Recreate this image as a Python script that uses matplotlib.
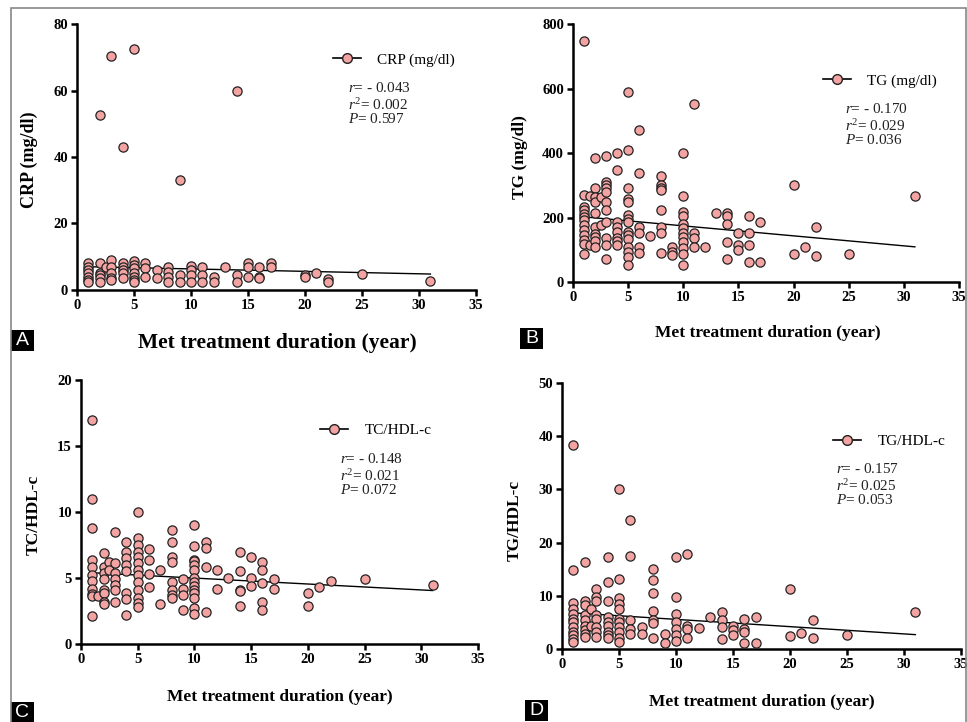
import matplotlib
matplotlib.use("Agg")
import matplotlib.pyplot as plt
from matplotlib.lines import Line2D
from matplotlib.patches import Rectangle

plt.rcParams['font.family'] = ['Liberation Serif', 'DejaVu Serif']
plt.rcParams['mathtext.fontset'] = 'custom'
plt.rcParams['mathtext.rm'] = 'Liberation Serif'
plt.rcParams['mathtext.it'] = 'Liberation Serif:italic'

# ---------------- data ----------------
crp_years = [1, 1, 1, 1, 1, 1, 1,
             2, 2, 2, 2, 2, 2,
             2.5,
             3, 3, 3, 3, 3, 3,
             4, 4, 4, 4, 4, 4,
             5, 5, 5, 5, 5, 5, 5, 5,
             6, 6, 6,
             7, 7,
             8, 8, 8, 8,
             9, 9, 9,
             10, 10, 10, 10,
             11, 11, 11,
             12, 12,
             13,
             14, 14, 14,
             15, 15, 15,
             16, 16, 16,
             17, 17,
             20, 20,
             21,
             22, 22,
             25,
             31]
crp_values = [8, 7, 6, 5, 4, 3, 2.5,
              52.5, 8, 5, 4.5, 3.5, 2.5,
              7,
              70.5, 9, 7, 5, 3.5, 3,
              43, 8, 7, 6, 5, 3.5,
              72.5, 8.8, 7.5, 6.5, 5, 4, 3, 2.5,
              8, 6.5, 4,
              6, 3.5,
              7, 5.5, 4, 2.5,
              33, 4.5, 2.5,
              7.2, 6, 4.5, 2.5,
              7, 4.5, 2.5,
              4, 2.5,
              7,
              60, 4.5, 2.5,
              8, 7, 4,
              7, 4, 3.5,
              8, 7,
              4.4, 3.8,
              5.2,
              3.2, 2.5,
              4.8,
              2.6]

tg_years = [1] * 13 + [1.5] * 2 + [2] * 10 + [2.5] * 2 + [3] * 11 + [4] * 8 + \
           [5] * 15 + [6] * 6 + [7] * 1 + [8] * 8 + [9] * 3 + [10] * 12 + \
           [11] * 4 + [12] * 1 + [13] * 1 + [14] * 5 + [15] * 3 + [16] * 4 + \
           [17] * 2 + [20] * 2 + [21] * 1 + [22] * 2 + [25] * 1 + [31] * 1
tg_values = [748, 269, 233, 223, 212, 202, 192, 176, 161, 145, 130, 119, 88,
             267, 114,
             383, 293, 265, 249, 214, 169, 150, 138, 127, 109,
             265, 178,
             391, 311, 300, 293, 280, 249, 223, 187, 135, 116, 70,
             400, 346, 187, 171, 155, 135, 128, 114,
             588, 408, 293, 257, 247, 207, 194, 187, 155, 145, 132, 109, 93, 78, 52,
             471, 338, 171, 153, 107, 90,
             142,
             330, 302, 292, 285, 223, 171, 153, 90,
             109, 93, 83,
             400, 266, 216, 205, 181, 166, 153, 140, 124, 104, 88, 52,
             551, 153, 135, 107,
             107,
             214,
             214, 205, 179, 124, 70,
             152, 114, 98,
             205, 152, 116, 62,
             187, 62,
             302, 88,
             107,
             169, 80,
             88,
             266]

tc_years = [1] * 11 + [1.5] * 1 + [2] * 8 + [2.5] * 2 + [3] * 7 + [4] * 8 + \
           [5] * 13 + [6] * 4 + [7] * 2 + [8] * 8 + [9] * 4 + [10] * 14 + \
           [11] * 4 + [12] * 2 + [13] * 1 + [14] * 5 + [15] * 3 + [16] * 5 + \
           [17] * 2 + [20] * 2 + [21] * 1 + [22] * 1 + [25] * 1 + [31] * 1
tc_values = [17, 11, 8.8, 6.4, 5.8, 5.2, 4.8, 4.2, 3.8, 3.6, 2.1,
             3.6,
             6.9, 5.8, 5.4, 4.9, 4.1, 3.9, 3.2, 3.0,
             6.2, 5.6,
             8.45, 6.1, 5.4, 4.9, 4.5, 4.1, 3.2,
             7.7, 7.0, 6.5, 6.0, 5.5, 3.9, 3.4, 2.2,
             10, 8.0, 7.5, 7.0, 6.6, 6.1, 5.6, 5.2, 4.7, 4.1, 3.5, 3.1, 2.8,
             7.2, 6.4, 5.3, 4.3,
             5.6, 3.0,
             8.6, 7.7, 6.6, 6.2, 4.7, 4.1, 3.7, 3.5,
             4.9, 4.2, 3.7, 2.6,
             9.0, 7.4, 6.4, 6.3, 6.0, 5.6, 5.0, 4.7, 4.4, 4.1, 3.9, 3.5, 2.7, 2.3,
             7.7, 7.3, 5.8, 2.4,
             5.6, 4.2,
             5.0,
             7.0, 5.5, 4.1, 4.0, 2.9,
             6.6, 5.0, 4.4,
             6.2, 5.6, 4.6, 3.2, 2.6,
             4.9, 4.2,
             3.9, 2.9,
             4.3,
             4.8,
             4.9,
             4.5]

tgh_years = [1] * 12 + [2] * 9 + [2.5] * 2 + [3] * 8 + [4] * 9 + [5] * 11 + \
            [6] * 5 + [7] * 2 + [8] * 7 + [9] * 2 + [10] * 7 + [11] * 4 + \
            [12] * 1 + [13] * 1 + [14] * 4 + [15] * 3 + [16] * 4 + [17] * 2 + \
            [20] * 2 + [21] * 1 + [22] * 2 + [25] * 1 + [31] * 1
tgh_values = [38.3, 14.9, 8.7, 7.6, 6.6, 5.7, 5.1, 4.1, 3.2, 2.6, 1.9, 1.4,
              16.4, 9.1, 8.2, 6.3, 5.4, 4.4, 3.5, 2.8, 2.3,
              7.6, 4.4,
              11.2, 9.8, 9.0, 6.3, 5.7, 4.1, 3.2, 2.3,
              17.2, 12.6, 9.1, 6.0, 5.1, 4.4, 3.2, 2.6, 2.1,
              30.1, 13.1, 9.6, 8.5, 7.6, 5.7, 5.1, 4.1, 3.2, 2.1, 1.3,
              24.2, 17.4, 5.5, 3.8, 2.9,
              4.1, 2.9,
              15.1, 13.0, 10.5, 7.1, 5.4, 4.8, 2.0,
              2.9, 1.1,
              17.2, 9.8, 6.6, 5.1, 3.8, 2.6, 1.5,
              17.8, 4.3, 3.8, 2.1,
              3.9,
              6.1,
              7.0, 5.4, 4.1, 1.8,
              4.3, 3.5, 2.6,
              5.7, 3.8, 3.2, 1.2,
              6.0, 1.2,
              11.2, 2.4,
              3.1,
              5.5, 2.1,
              2.6,
              6.9]

fit_x = [1, 31]
crp_fit = [7.0, 4.8]
tg_fit = [202, 109]
tc_fit = [5.4, 4.05]
tgh_fit = [6.8, 2.7]

x_ticks = [0, 5, 10, 15, 20, 25, 30, 35]
crp_ticks = [0, 20, 40, 60, 80]
tg_ticks = [0, 200, 400, 600, 800]
tc_ticks = [0, 5, 10, 15, 20]
tgh_ticks = [0, 10, 20, 30, 40, 50]

series_names = ["CRP (mg/dl)", "TG (mg/dl)", "TC/HDL-c", "TG/HDL-c"]
r_vals = ["- 0.043", "- 0.170", "- 0.148", "- 0.157"]
r2_vals = ["0.002", "0.029", "0.021", "0.025"]
p_vals = ["0.597", "0.036", "0.072", "0.053"]
panel_letters = ["A", "B", "C", "D"]
x_title = "Met treatment duration (year)"

# ---------------- layout ----------------
W, H = 967, 722
fig = plt.figure(figsize=(W / 100, H / 100), dpi=100)
fig.patch.set_facecolor('white')

def fx(px):
    return px / W

def fy(py):
    return 1 - py / H

PINK = '#F4A3A3'

panels = [
    dict(box=(77, 24, 476, 290), xl=(277, 343), xls=15.5, yl=(29, 160), yls=13,
         leg=(333, 60), stats=(348, 88), letter=(11, 330)),
    dict(box=(573, 24, 959, 282), xl=(768, 333), xls=12.5, yl=(520, 157), yls=12.5,
         leg=(823, 81), stats=(845, 109), letter=(520, 328)),
    dict(box=(81, 380, 478, 644), xl=(280, 697), xls=12.5, yl=(34, 515), yls=12.5,
         leg=(320, 430), stats=(340, 459), letter=(11, 702)),
    dict(box=(562, 383, 961, 649), xl=(762, 702), xls=12.5, yl=(515, 520), yls=12.5,
         leg=(833, 441), stats=(836, 469), letter=(525, 700)),
]
xs = [crp_years, tg_years, tc_years, tgh_years]
ys = [crp_values, tg_values, tc_values, tgh_values]
fits = [crp_fit, tg_fit, tc_fit, tgh_fit]
yticks = [crp_ticks, tg_ticks, tc_ticks, tgh_ticks]
ylabels = ["CRP (mg/dl)", "TG (mg/dl)", "TC/HDL-c", "TG/HDL-c"]

for i, p in enumerate(panels):
    l, t, r, b = p['box']
    ax = fig.add_axes([fx(l), fy(b), fx(r) - fx(l), fy(t) - fy(b)])
    ax.set_xlim(0, 35)
    ax.set_ylim(yticks[i][0], yticks[i][-1])
    ax.plot(fit_x, fits[i], color='black', lw=1.0, zorder=2)
    ax.scatter(xs[i], ys[i], s=44, facecolor=PINK, edgecolor='#222222',
               linewidth=0.9, zorder=3, clip_on=False)
    ax.set_xticks(x_ticks)
    ax.set_yticks(yticks[i])
    for side in ['top', 'right']:
        ax.spines[side].set_visible(False)
    for side in ['left', 'bottom']:
        ax.spines[side].set_linewidth(1.8)
    ax.tick_params(direction='out', length=4.5, width=1.8, labelsize=10.5, pad=2)
    for lab in ax.get_xticklabels() + ax.get_yticklabels():
        lab.set_fontweight('bold')
    ax.set_xlabel(x_title, fontsize=p['xls'], fontweight='bold')
    ax.xaxis.set_label_coords(fx(p['xl'][0]), fy(p['xl'][1]), transform=fig.transFigure)
    ax.xaxis.label.set_va('center')
    ax.set_ylabel(ylabels[i], fontsize=p['yls'], fontweight='bold')
    ax.yaxis.set_label_coords(fx(p['yl'][0]), fy(p['yl'][1]), transform=fig.transFigure)
    ax.yaxis.label.set_va('center')

    # legend
    handle = Line2D([], [], color='black', lw=1.2, marker='o', markersize=7,
                    markerfacecolor=PINK, markeredgecolor='#222222')
    ax.legend([handle], [series_names[i]], loc='center left', frameon=False,
              bbox_to_anchor=(fx(p['leg'][0]), fy(p['leg'][1])),
              bbox_transform=fig.transFigure, handlelength=1.8, handletextpad=1.1,
              borderaxespad=0, borderpad=0, prop={'family': 'Liberation Serif', 'size': 11})

    sx, sy = p['stats']
    fig.text(fx(sx), fy(sy), r'$\mathit{r}$= ' + r_vals[i], fontsize=11,
             va='center', ha='left', color='#222222')
    fig.text(fx(sx), fy(sy + 17), r'$\mathit{r}^{2}$= ' + r2_vals[i], fontsize=11,
             va='center', ha='left', color='#222222')
    fig.text(fx(sx), fy(sy + 31), r'$\mathit{P}$= ' + p_vals[i], fontsize=11,
             va='center', ha='left', color='#222222')

    # panel letter box
    bx, by = p['letter']
    fig.add_artist(Rectangle((fx(bx), fy(by + 21)), fx(23), 21 / H,
                             transform=fig.transFigure, facecolor='black',
                             edgecolor='none', clip_on=False))
    fig.text(fx(bx + 11.5), fy(by + 10.5), panel_letters[i], color='white',
             fontsize=14, family='Liberation Sans', ha='center', va='center')

# outer border
fig.add_artist(Rectangle((fx(11), fy(740)), fx(955), 732 / H, transform=fig.transFigure,
                         facecolor='none', edgecolor='#888888', lw=1.2, clip_on=False))

fig.savefig('out.png', dpi=100)
